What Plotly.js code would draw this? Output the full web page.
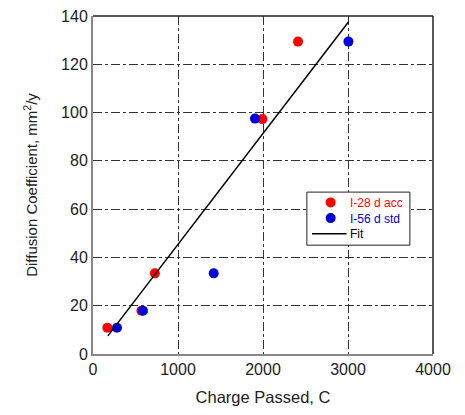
<!DOCTYPE html>
<html>
<head>
<meta charset="utf-8">
<script src="https://cdn.plot.ly/plotly-3.0.1.min.js"></script>
<style>html,body{margin:0;padding:0;background:#fff;}#chart{width:465px;height:415px;}</style>
</head>
<body>
<div id="chart"></div>
<script>
const acc28X = [169, 569, 728, 1993, 2412];
const acc28Y = [10.9, 17.9, 33.4, 97.3, 129.4];
const std56X = [282, 588, 1420, 1906, 3005];
const std56Y = [10.9, 17.9, 33.4, 97.5, 129.4];
const fitX = [175, 3005];
const fitY = [7.5, 137.5];
const xTicks = [0, 1000, 2000, 3000, 4000];
const yTicks = [0, 20, 40, 60, 80, 100, 120, 140];
const legendNames = ['I-28 d acc', 'I-56 d std', 'Fit'];
const RED = '#ff0000', BLUE = '#0000dd';

const traces = [
  {x: acc28X, y: acc28Y, mode: 'markers', type: 'scatter', name: legendNames[0],
   marker: {color: RED, size: 10}},
  {x: std56X, y: std56Y, mode: 'markers', type: 'scatter', name: legendNames[1],
   marker: {color: BLUE, size: 10}},
  {x: fitX, y: fitY, mode: 'lines', type: 'scatter', name: legendNames[2],
   line: {color: '#000000', width: 1.5}}
];

const ff = 'Liberation Sans, Arial, sans-serif';
// compact legend box (paper coordinates)
const lg = {x0: 0.629, x1: 0.932, y0: 0.322, y1: 0.479, rows: [0.4485, 0.402, 0.3556],
  symX: 0.699, lineX0: 0.644, lineX1: 0.746, textX: 0.752};
const legendShapes = [
  {type: 'rect', xref: 'paper', yref: 'paper', x0: lg.x0, x1: lg.x1, y0: lg.y0, y1: lg.y1,
   line: {color: '#222', width: 1}, fillcolor: '#fff', layer: 'above'},
  {type: 'circle', xref: 'paper', yref: 'paper', xsizemode: 'pixel', ysizemode: 'pixel',
   xanchor: lg.symX, yanchor: lg.rows[0], x0: -5, x1: 5, y0: -5, y1: 5,
   fillcolor: RED, line: {width: 0}, layer: 'above'},
  {type: 'circle', xref: 'paper', yref: 'paper', xsizemode: 'pixel', ysizemode: 'pixel',
   xanchor: lg.symX, yanchor: lg.rows[1], x0: -5, x1: 5, y0: -5, y1: 5,
   fillcolor: BLUE, line: {width: 0}, layer: 'above'},
  {type: 'line', xref: 'paper', yref: 'paper', x0: lg.lineX0, x1: lg.lineX1, y0: lg.rows[2], y1: lg.rows[2],
   line: {color: '#000', width: 1.5}, layer: 'above'}
];
const legendColors = [RED, BLUE, '#000'];
const legendText = legendNames.map((n, i) =>
  '<span style="color:' + legendColors[i] + '">' + n + '</span>').join('<br>');
const legendAnn = [{
  text: legendText, xref: 'paper', yref: 'paper', x: lg.textX, y: lg.rows[1],
  xanchor: 'left', yanchor: 'middle', align: 'left', showarrow: false, borderpad: 0,
  font: {family: ff, size: 12, color: '#000'}
}];

const layout = {
  width: 465, height: 415,
  margin: {l: 93, r: 32, t: 16, b: 61},
  paper_bgcolor: '#fff', plot_bgcolor: '#fff',
  font: {family: ff, size: 16, color: '#222'},
  showlegend: false,
  xaxis: {range: [0, 4000], tickvals: xTicks, ticktext: xTicks.map(String),
    showgrid: true, gridcolor: '#333', griddash: 'dashdot', gridwidth: 1,
    showline: true, linecolor: '#888', linewidth: 2, zeroline: false,
    ticks: '', ticklen: 0,
    title: {text: 'Charge Passed, C', font: {size: 16.5}, standoff: 14}},
  yaxis: {range: [0, 140], tickvals: yTicks, ticktext: yTicks.map(String),
    showgrid: true, gridcolor: '#333', griddash: 'dashdot', gridwidth: 1,
    showline: true, linecolor: '#888', linewidth: 2, zeroline: false,
    ticks: '', ticklen: 0,
    title: {text: 'Diffusion Coefficient, mm<sup>2</sup>/y', font: {size: 15}, standoff: 20}},
  shapes: [
    {type: 'line', xref: 'paper', yref: 'paper', x0: 0, x1: 1, y0: 1, y1: 1, line: {color: '#222', width: 1.5}},
    {type: 'line', xref: 'paper', yref: 'paper', x0: 1, x1: 1, y0: 0, y1: 1, line: {color: '#222', width: 1.5}}
  ].concat(legendShapes),
  annotations: legendAnn
};
Plotly.newPlot('chart', traces, layout, {displayModeBar: false});
</script>
</body>
</html>
